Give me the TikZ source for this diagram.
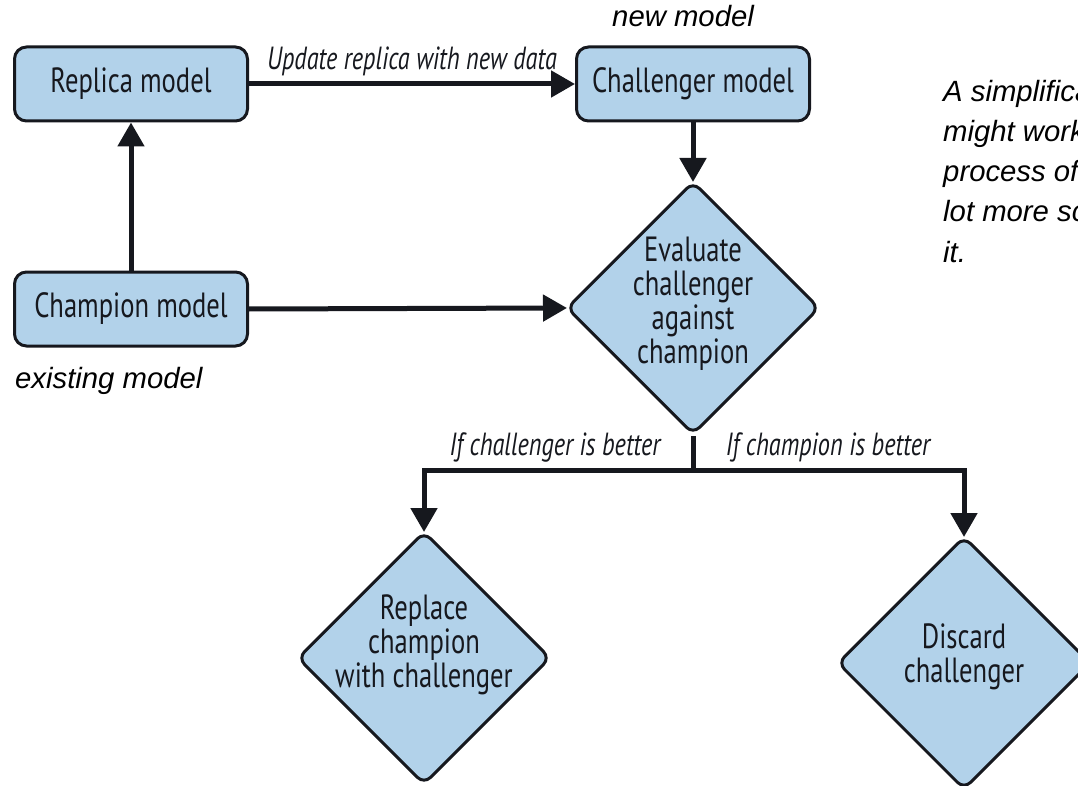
\documentclass[tikz,border=0pt]{standalone}
\usepackage{fontspec}
\usetikzlibrary{arrows.meta,shapes.geometric}
\newfontfamily\condfont[FakeStretch=0.76]{PT Sans}
\newfontfamily\notefont{Liberation Sans}
\definecolor{boxfill}{RGB}{178,210,234}
\definecolor{ink}{RGB}{22,24,30}
\tikzset{
  modelbox/.style={draw=ink, fill=boxfill, line width=3pt, rounded corners=12pt,
    minimum width=233pt, minimum height=74pt, inner sep=0pt, text=ink,
    font=\condfont\fontsize{35}{37}\selectfont},
  decision/.style={draw=ink, fill=boxfill, line width=3pt, diamond, rounded corners=9pt,
    minimum width=253pt, minimum height=253pt, inner sep=0pt},
  dtext/.style={align=center, text=ink, inner sep=0pt,
    font=\condfont\fontsize{35}{34}\selectfont},
  edgelabel/.style={text=ink, inner sep=0pt,
    font=\condfont\itshape\fontsize{32}{34}\selectfont},
  note/.style={text=black, inner sep=0pt, anchor=base west,
    font=\notefont\itshape\fontsize{29.3}{31}\selectfont},
  conn/.style={draw=ink, line width=5pt, -{Triangle[width=26pt,length=24pt]}},
  plain/.style={draw=ink, line width=5pt},
}
\begin{document}
\begin{tikzpicture}[x=1pt,y=-1pt]
\useasboundingbox (0,0) rectangle (1078,786);
\clip (0,0) rectangle (1078,786);

% model boxes
\node[modelbox] (replica) at (131,84) {Replica model};
\node[modelbox] (challenger) at (693,84) {Challenger model};
\node[modelbox] (champion) at (131,309) {Champion model};

% decision diamonds
\node[decision] (evaluate) at (693,308) {};
\node[dtext] (evaltxt) at (693,304) {Evaluate\\challenger\\against\\champion};
\node[decision] (replace) at (424,658) {};
\node[dtext] (repltxt) at (424,645) {Replace\\champion\\with challenger};
\node[decision] (discard) at (964,663) {};
\node[dtext] (disctxt) at (964,657) {Discard\\challenger};

% connectors
\draw[conn] (replica.east) -- (challenger.west)
  node[edgelabel, midway, above=6pt] (updlbl) {Update replica with new data};
\draw[conn, shorten >=-2pt] (challenger.south) -- (evaluate.north);
\draw[conn] (champion.north) -- (replica.south);
\draw[conn, shorten >=-2pt] (champion.east) -- (evaluate.west);

\coordinate (split) at (693,470);
\draw[plain] (evaluate.south) -- (split);
\draw[conn, shorten >=-2pt] (split) -| (replace.north);
\draw[conn, shorten >=-2pt] (split) -| (discard.north);
\node[edgelabel] (lblleft) at (555,447) {If challenger is better};
\node[edgelabel] (lblright) at (828,447) {If champion is better};

% notes
\node[note] (newnote) at (612,27) {new model};
\node[note] (oldnote) at (15,388) {existing model};
\node[note] (side1) at (943,102) {A simplifica};
\node[note] (side2) at (943,142) {might work};
\node[note] (side3) at (943,182) {process of};
\node[note] (side4) at (943,222) {lot more sc};
\node[note] (side5) at (943,262) {it.};
\end{tikzpicture}
\end{document}
